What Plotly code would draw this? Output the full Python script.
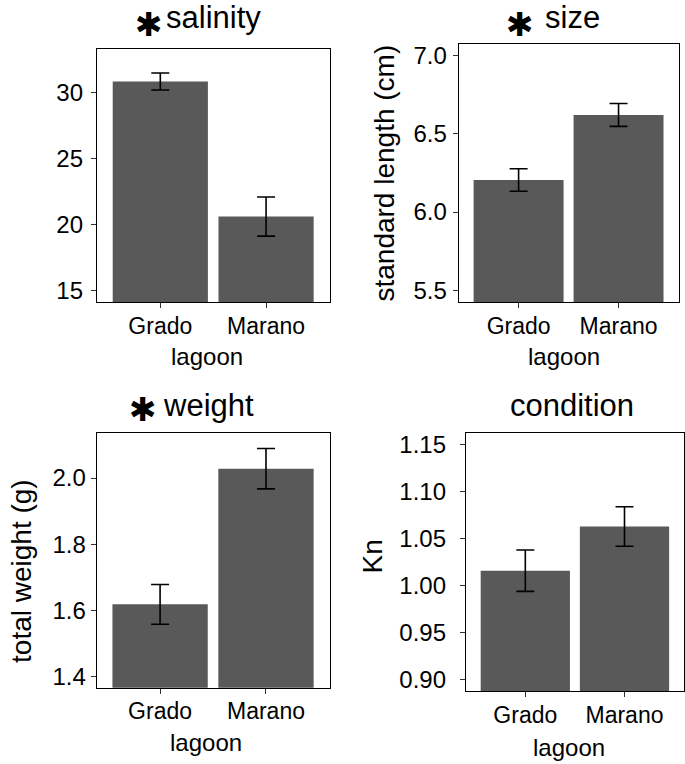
import plotly.graph_objects as go

# ---------------- data ----------------
lagoons = ["Grado", "Marano"]

salinity_mean = [30.82, 20.60]
salinity_err = [0.64, 1.48]

size_mean = [6.205, 6.621]
size_err = [0.072, 0.073]

weight_mean = [1.618, 2.028]
weight_err = [0.060, 0.061]

condition_mean = [1.016, 1.063]
condition_err = [0.022, 0.021]

salinity_ticks = [15, 20, 25, 30]
salinity_ticklabels = ["15", "20", "25", "30"]
size_ticks = [5.5, 6.0, 6.5, 7.0]
size_ticklabels = ["5.5", "6.0", "6.5", "7.0"]
weight_ticks = [1.4, 1.6, 1.8, 2.0]
weight_ticklabels = ["1.4", "1.6", "1.8", "2.0"]
condition_ticks = [0.90, 0.95, 1.00, 1.05, 1.10, 1.15]
condition_ticklabels = ["0.90", "0.95", "1.00", "1.05", "1.10", "1.15"]

titles = ["salinity", "size", "weight", "condition"]
starred = [True, True, True, False]
y_titles = ["", "standard length (cm)", "total weight (g)", "Kn"]
x_title = "lagoon"
star_text = "✱"

# ---------------- layout geometry (pixels) ----------------
W, H = 685, 764
FONT = "Liberation Sans, Arial, Helvetica, sans-serif"
BAR = "#595959"


def px(x):
    return x / W


def py(y):
    return 1 - y / H


panels = [
    dict(x0=97, x1=330, y0=47, y1=302, rng=[14.1, 33.3],
         mean=salinity_mean, err=salinity_err,
         ticks=salinity_ticks, labels=salinity_ticklabels, standoff=3,
         title_xy=(214, 16), star_xy=(149, 23),
         xt_xy=(207.5, 356), yt_xy=None),
    dict(x0=459.3, x1=679.5, y0=42.3, y1=301.7, rng=[5.424, 7.074],
         mean=size_mean, err=size_err,
         ticks=size_ticks, labels=size_ticklabels, standoff=1,
         title_xy=(573, 16), star_xy=(521, 23),
         xt_xy=(565, 356), yt_xy=(385, 172)),
    dict(x0=96.7, x1=330, y0=433.3, y1=689.3, rng=[1.366, 2.136],
         mean=weight_mean, err=weight_err,
         ticks=weight_ticks, labels=weight_ticklabels, standoff=0,
         title_xy=(209, 406), star_xy=(143, 410),
         xt_xy=(206, 744), yt_xy=(21, 572)),
    dict(x0=466.5, x1=685, y0=433.3, y1=692.7, rng=[0.888, 1.1624],
         mean=condition_mean, err=condition_err,
         ticks=condition_ticks, labels=condition_ticklabels, standoff=9,
         title_xy=(573, 406), star_xy=None,
         xt_xy=(569.5, 749), yt_xy=(373, 557)),
]

fig = go.Figure()
annotations = []

for i, p in enumerate(panels):
    n = "" if i == 0 else str(i + 1)
    fig.add_trace(go.Bar(
        x=lagoons, y=p["mean"], width=0.9,
        marker=dict(color=BAR, line=dict(width=0)),
        error_y=dict(type="data", array=p["err"], visible=True,
                     color="black", thickness=1.6, width=9),
        xaxis="x" + n, yaxis="y" + n, showlegend=False,
        hoverinfo="skip",
    ))
    common = dict(showline=True, linecolor="black", linewidth=1, mirror=True,
                  ticks="outside", ticklen=5, tickwidth=1, tickcolor="#333333",
                  showgrid=False, zeroline=False)
    fig.update_layout(**{
        "xaxis" + n: dict(domain=[px(p["x0"]), px(p["x1"])],
                          anchor="y" + n, type="category",
                          range=[-0.6, 1.6], ticklabelstandoff=-2,
                          tickfont=dict(family=FONT, size=23, color="black"),
                          **common),
        "yaxis" + n: dict(domain=[py(p["y1"]), py(p["y0"])],
                          anchor="x" + n, range=p["rng"],
                          tickvals=p["ticks"], ticktext=p["labels"],
                          ticklabelstandoff=p["standoff"],
                          tickfont=dict(family=FONT, size=24, color="black"),
                          **common),
    })

    tx, ty = p["title_xy"]
    annotations.append(dict(text=titles[i], x=px(tx), y=py(ty), xref="paper",
                            yref="paper", showarrow=False, xanchor="center",
                            yanchor="middle",
                            font=dict(family=FONT, size=31, color="black")))
    if starred[i]:
        sx, sy = p["star_xy"]
        annotations.append(dict(text=star_text, x=px(sx), y=py(sy), xref="paper",
                                yref="paper", showarrow=False, xanchor="center",
                                yanchor="middle", borderpad=0,
                                font=dict(family="DejaVu Sans", size=33,
                                          color="black")))
    xx, xy = p["xt_xy"]
    annotations.append(dict(text=x_title, x=px(xx), y=py(xy), xref="paper",
                            yref="paper", showarrow=False, xanchor="center",
                            yanchor="middle",
                            font=dict(family=FONT, size=24, color="black")))
    if p["yt_xy"] is not None:
        yx, yy = p["yt_xy"]
        annotations.append(dict(text=y_titles[i], x=px(yx), y=py(yy),
                                xref="paper", yref="paper", showarrow=False,
                                textangle=-90, xanchor="center",
                                yanchor="middle",
                                font=dict(family=FONT, size=28, color="black")))

fig.update_layout(width=W, height=H, margin=dict(l=0, r=0, t=0, b=0),
                  plot_bgcolor="white", paper_bgcolor="white",
                  annotations=annotations, bargap=0.1)

fig.write_html("out.html", config={"displayModeBar": False},
               post_script="document.body.style.margin='0px';"
                           "document.body.style.overflow='hidden';")
